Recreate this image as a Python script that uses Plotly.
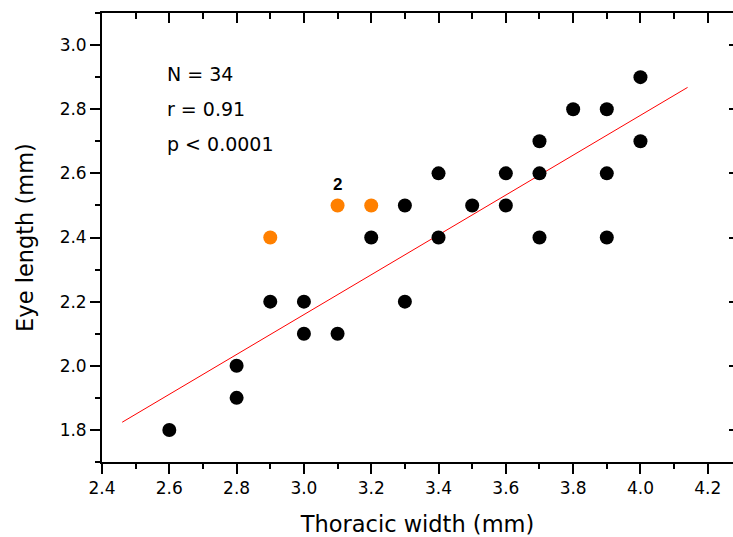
import plotly.graph_objects as go

# Data
black_x = [2.6, 2.8, 2.8, 2.9, 3.0, 3.0, 3.1, 3.2, 3.3, 3.3, 3.4, 3.4,
           3.5, 3.6, 3.6, 3.7, 3.7, 3.7, 3.8, 3.9, 3.9, 3.9, 4.0, 4.0]
black_y = [1.8, 1.9, 2.0, 2.2, 2.2, 2.1, 2.1, 2.4, 2.5, 2.2, 2.6, 2.4,
           2.5, 2.6, 2.5, 2.7, 2.6, 2.4, 2.8, 2.8, 2.6, 2.4, 2.9, 2.7]
orange_x = [2.9, 3.1, 3.2]
orange_y = [2.4, 2.5, 2.5]
fit_x = [2.46, 4.14]
fit_y = [1.824, 2.868]
stats_text = ["N = 34", "r = 0.91", "p < 0.0001"]
stats_y = [2.91, 2.80, 2.69]
dup_label = "2"
dup_x = 3.1
dup_y = 2.5

FONT = "DejaVu Sans"

fig = go.Figure()
fig.add_trace(go.Scatter(x=fit_x, y=fit_y, mode="lines",
                         line=dict(color="#FF0000", width=1), showlegend=False,
                         hoverinfo="skip"))
fig.add_trace(go.Scatter(x=black_x, y=black_y, mode="markers",
                         marker=dict(color="black", size=14, line=dict(width=0)),
                         showlegend=False))
fig.add_trace(go.Scatter(x=orange_x, y=orange_y, mode="markers",
                         marker=dict(color="#FF8000", size=14, line=dict(width=0)),
                         showlegend=False))
# invisible trace to activate the mirrored (top/right) axes
fig.add_trace(go.Scatter(x=fit_x, y=fit_y, xaxis="x2", yaxis="y2", mode="lines",
                         line=dict(width=0), opacity=0, showlegend=False,
                         hoverinfo="skip"))

for t, yy in zip(stats_text, stats_y):
    fig.add_annotation(x=2.587, y=yy, xref="x", yref="y", text=t, showarrow=False,
                       xanchor="left", yanchor="middle",
                       font=dict(family=FONT, size=19, color="black"))
fig.add_annotation(x=dup_x, y=dup_y, text="<b>%s</b>" % dup_label, showarrow=False,
                   yshift=21, xanchor="center", yanchor="middle",
                   font=dict(family="Liberation Sans", size=17, color="black"))

xr = [2.4, 4.275]
yr = [1.7, 3.1]

fig.update_layout(
    width=733, height=537,
    margin=dict(l=102, r=0, t=13, b=75),
    paper_bgcolor="white", plot_bgcolor="white",
    font=dict(family=FONT, size=17, color="black"),
    xaxis=dict(range=xr, showgrid=False, zeroline=False, showline=True,
               linecolor="black", linewidth=1.8, ticks="outside", ticklen=10,
               tickwidth=1.5, tickcolor="black", dtick=0.2, tick0=2.4,
               tickformat=".1f", tickfont=dict(family=FONT, size=17),
               minor=dict(ticks="outside", ticklen=5, tickwidth=1.5,
                          tickcolor="black", dtick=0.1, tick0=2.4, showgrid=False),
               title=dict(text="Thoracic width (mm)", standoff=20,
                          font=dict(family=FONT, size=22.5))),
    yaxis=dict(range=yr, showgrid=False, zeroline=False, showline=True,
               linecolor="black", linewidth=1.8, ticks="outside", ticklen=10,
               tickwidth=1.5, tickcolor="black", dtick=0.2, tick0=1.8,
               tickformat=".1f", tickfont=dict(family=FONT, size=17),
               minor=dict(ticks="outside", ticklen=5, tickwidth=1.5,
                          tickcolor="black", dtick=0.1, tick0=1.7, showgrid=False),
               title=dict(text="Eye length (mm)", standoff=20,
                          font=dict(family=FONT, size=22.5))),
    xaxis2=dict(overlaying="x", side="top", matches="x", range=xr, showgrid=False,
                zeroline=False, showline=True, linecolor="black", linewidth=1.8,
                ticks="inside", ticklen=10, tickwidth=1.5, tickcolor="black",
                dtick=0.2, tick0=2.4, showticklabels=False,
                minor=dict(ticks="inside", ticklen=6, tickwidth=1.5,
                           tickcolor="black", dtick=0.1, tick0=2.4, showgrid=False)),
    yaxis2=dict(overlaying="y", side="right", matches="y", range=yr, showgrid=False,
                zeroline=False, showline=False, ticks="inside", ticklen=4,
                tickwidth=1.5, tickcolor="black", dtick=0.2, tick0=1.8,
                showticklabels=False),
)

fig.write_html("out.html")
